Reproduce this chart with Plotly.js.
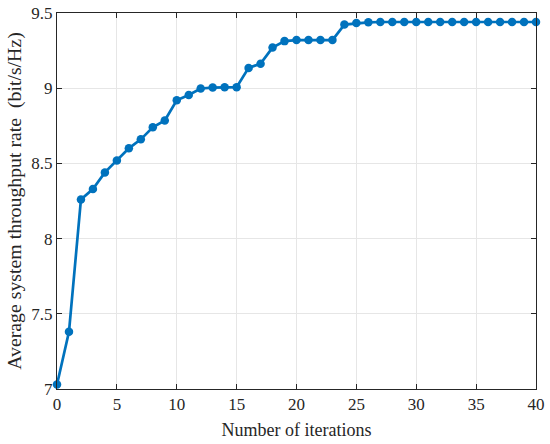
<!DOCTYPE html>
<html><head><meta charset="utf-8">
<script src="https://cdn.plot.ly/plotly-3.0.1.min.js"></script>
<style>html,body{margin:0;padding:0;background:#fff;}#c{width:550px;height:444px;}</style>
</head><body><div id="c"></div>
<script>
const iterations = [0,1,2,3,4,5,6,7,8,9,10,11,12,13,14,15,16,17,18,19,20,21,22,23,24,25,26,27,28,29,30,31,32,33,34,35,36,37,38,39,40];
const throughput = [7.03,7.38,8.26,8.33,8.44,8.52,8.60,8.66,8.74,8.785,8.92,8.955,8.998,9.004,9.006,9.007,9.135,9.163,9.27,9.313,9.32,9.32,9.32,9.32,9.423,9.433,9.438,9.44,9.44,9.44,9.44,9.44,9.44,9.44,9.44,9.44,9.44,9.44,9.44,9.44,9.44];
const xTicks = [0,5,10,15,20,25,30,35,40];
const yTicks = [7,7.5,8,8.5,9,9.5];
const yTickText = ['7','7.5','8','8.5','9','9.5'];

const fam = 'Liberation Serif, Times New Roman, serif';
const tickFont = {family:fam, size:17, color:'#262626'};
const xTitleFont = {family:fam, size:18, color:'#262626'};
const yTitleFont = {family:fam, size:19.8, color:'#262626'};
const trace = {
  x: iterations, y: throughput, type:'scatter', mode:'lines+markers',
  line:{color:'#0072BD', width:2.7},
  marker:{color:'#0072BD', size:8.5},
  cliponaxis:false
};
const axisCommon = {
  showline:true, linecolor:'#262626', linewidth:1, mirror:'ticks',
  ticks:'inside', ticklen:5, tickcolor:'#262626',
  showgrid:true, gridcolor:'#e6e6e6', gridwidth:1, zeroline:false,
  tickfont:tickFont
};
const layout = {
  width:550, height:444,
  margin:{l:57, r:14, t:13, b:55},
  paper_bgcolor:'#fff', plot_bgcolor:'#fff',
  showlegend:false, font:tickFont,
  xaxis: Object.assign({}, axisCommon, {
    range:[0,40], tickvals:xTicks, ticktext:xTicks.map(String),
    title:{text:'Number of iterations', font:xTitleFont, standoff:9}
  }),
  yaxis: Object.assign({}, axisCommon, {
    range:[7,9.5], tickvals:yTicks, ticktext:yTickText,
    title:{text:'Average system throughput rate  (bit/s/Hz)', font:yTitleFont, standoff:4}
  })
};
Plotly.newPlot('c',[trace],layout,{staticPlot:true, displayModeBar:false});
</script></body></html>
